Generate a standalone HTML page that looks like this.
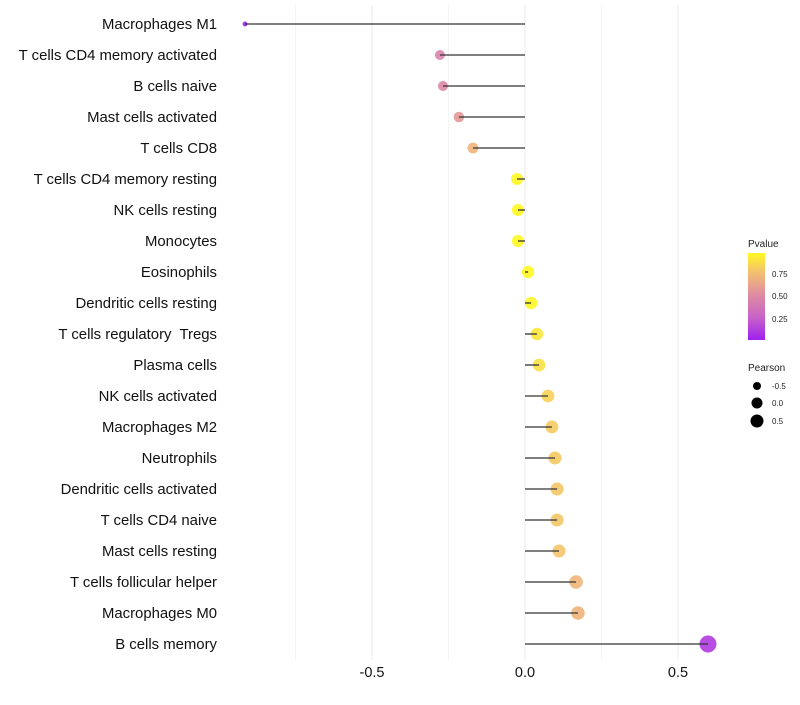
<!DOCTYPE html>
<html><head><meta charset="utf-8"><style>
body{margin:0;background:#fff;font-family:"Liberation Sans",sans-serif}
text{white-space:pre}
</style></head><body>
<svg id="chart" width="800" height="700" viewBox="0 0 800 700" xmlns="http://www.w3.org/2000/svg">
<g id="grid"></g>
<g id="marks"></g>
<g id="labels"></g>
<g id="xticks"></g>
<g>
<defs><linearGradient id="pg" x1="0" y1="1" x2="0" y2="0">
<stop offset="0" stop-color="#a020f0"/><stop offset="0.26" stop-color="#c862c8"/><stop offset="0.52" stop-color="#df8ca2"/><stop offset="0.78" stop-color="#f3c070"/><stop offset="1" stop-color="#fff820"/></linearGradient></defs>
<text x="748" y="247" font-size="10" fill="#222">Pvalue</text>
<rect x="748" y="253" width="17" height="87" fill="url(#pg)"/>
<text x="772" y="277" font-size="8" fill="#222">0.75</text>
<text x="772" y="299" font-size="8" fill="#222">0.50</text>
<text x="772" y="322" font-size="8" fill="#222">0.25</text>
</g>
<g>
<text x="748" y="371" font-size="10" fill="#222">Pearson</text>
<circle cx="757" cy="386" r="4" fill="#000"/>
<text x="772" y="389" font-size="8" fill="#222">-0.5</text>
<circle cx="757" cy="403" r="5.5" fill="#000"/>
<text x="772" y="406" font-size="8" fill="#222">0.0</text>
<circle cx="757" cy="421" r="6.5" fill="#000"/>
<text x="772" y="424" font-size="8" fill="#222">0.5</text>
</g>
</svg>
<script>
const categories=["Macrophages M1","T cells CD4 memory activated","B cells naive","Mast cells activated","T cells CD8","T cells CD4 memory resting","NK cells resting","Monocytes","Eosinophils","Dendritic cells resting","T cells regulatory  Tregs","Plasma cells","NK cells activated","Macrophages M2","Neutrophils","Dendritic cells activated","T cells CD4 naive","Mast cells resting","T cells follicular helper","Macrophages M0","B cells memory"];
const pearson=[-0.915,-0.278,-0.268,-0.216,-0.17,-0.026,-0.023,-0.023,0.01,0.02,0.039,0.046,0.075,0.088,0.098,0.105,0.105,0.111,0.167,0.173,0.598];
const pvalues=[0.0,0.45,0.47,0.56,0.7,0.97,0.97,0.97,0.98,0.96,0.9,0.88,0.82,0.8,0.79,0.78,0.78,0.77,0.71,0.7,0.1];
const xTicks=[-0.5,0,0.5];
const xTickLabels=["-0.5","0.0","0.5"];
const xMinor=[-0.75,-0.25,0.25];
const NS="http://www.w3.org/2000/svg";
const xs=v=>525+v*306;
const ys=i=>24+i*31;
const rs=v=>Math.max(1.8,6.1+v*4);
const stops=[[0,[160,32,240]],[0.26,[200,98,200]],[0.52,[223,140,162]],[0.78,[243,192,112]],[1,[255,248,32]]];
function col(p){p=Math.min(1,Math.max(0,p/0.97));for(let k=1;k<stops.length;k++){if(p<=stops[k][0]){const a=stops[k-1],b=stops[k],t=(p-a[0])/(b[0]-a[0]);return "rgb("+a[1].map((c,j)=>Math.round(c+(b[1][j]-c)*t)).join(",")+")";}}return "rgb(255,248,32)";}
function mk(t,a,parent){const e=document.createElementNS(NS,t);for(const k in a)e.setAttribute(k,a[k]);document.getElementById(parent).appendChild(e);return e;}
xMinor.forEach(v=>{const l=mk("line",{x1:xs(v),x2:xs(v),y1:5,y2:660,stroke:"#f4f4f4","stroke-width":1},"grid");

});
xTicks.forEach((v,i)=>{const l=mk("line",{x1:xs(v),x2:xs(v),y1:5,y2:660,stroke:"#ebebeb","stroke-width":1},"grid");


const t=mk("text",{x:xs(v),y:677,"font-size":14.5,"text-anchor":"middle",fill:"#111"},"xticks");t.textContent=xTickLabels[i];

});
categories.forEach((c,i)=>{const y=ys(i);
const p=mk("circle",{cx:xs(pearson[i]),cy:y,r:rs(pearson[i]),fill:col(pvalues[i]),"fill-opacity":0.9},"marks");


const s=mk("line",{x1:xs(0),x2:xs(pearson[i]),y1:y,y2:y,stroke:"#333","stroke-width":1.3},"marks");


const t=mk("text",{x:217,y:y+5,"font-size":14.9,"text-anchor":"end",fill:"#111"},"labels");t.textContent=c;

});
</script>
</body></html>
